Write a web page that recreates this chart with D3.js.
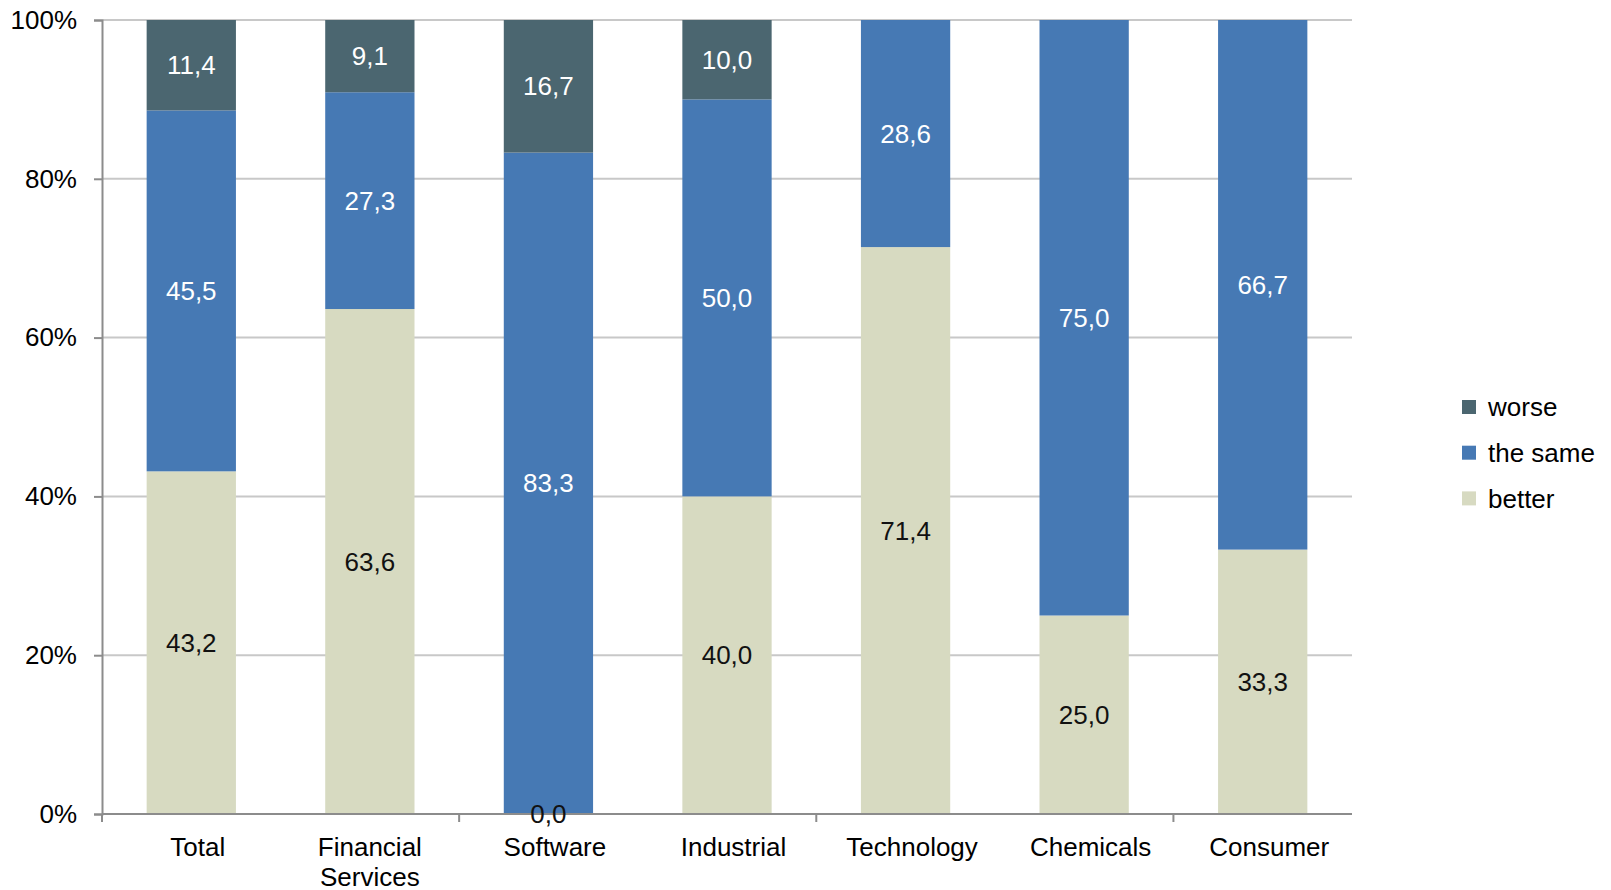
<!DOCTYPE html>
<html>
<head>
<meta charset="utf-8">
<script src="https://cdn.jsdelivr.net/npm/d3@7"></script>
<style>
  body { margin: 0; background: #fff; }
  text { font-family: "Liberation Sans", Arial, sans-serif; }
</style>
</head>
<body>
<script>
// chart data
var categories = ['Total', 'Financial Services', 'Software', 'Industrial', 'Technology', 'Chemicals', 'Consumer'];
var better = [43.2, 63.6, 0.0, 40.0, 71.4, 25.0, 33.3];
var same = [45.5, 27.3, 83.3, 50.0, 28.6, 75.0, 66.7];
var worse = [11.4, 9.1, 16.7, 10.0, null, null, null];
var seriesNames = ['better', 'the same', 'worse'];
var yTicks = [0, 0.2, 0.4, 0.6, 0.8, 1];

var svgWidth = 1611;
var svgHeight = 890;
var plotLeft = 102, plotRight = 1352, plotTop = 20, plotBottom = 814;
var fontSize = '26px';

var colors = {'better': '#d7dac1', 'the same': '#4679b4', 'worse': '#4b6670'};
var labelColors = {'better': '#111', 'the same': '#fff', 'worse': '#fff'};

var rows = categories.map(function(c, i) {
  return {cat: c, 'better': better[i], 'the same': same[i], 'worse': worse[i] || 0};
});

var stack = d3.stack().keys(seriesNames).offset(d3.stackOffsetExpand);
var layers = stack(rows);

var svg = d3.select('body').append('svg')
  .attr('width', svgWidth)
  .attr('height', svgHeight);

var x = d3.scaleBand().domain(categories).range([plotLeft, plotRight]).paddingInner(0.5).paddingOuter(0.25);
var y = d3.scaleLinear().domain([0, 1]).range([plotBottom, plotTop]);

// gridlines
svg.append('g').selectAll('line')
  .data(yTicks.slice(1))
  .enter().append('line')
  .attr('x1', plotLeft).attr('x2', plotRight)
  .attr('y1', function(d) { return y(d); })
  .attr('y2', function(d) { return y(d); })
  .attr('stroke', '#c8c8c8')
  .attr('stroke-width', 2);

// bars
var groups = svg.selectAll('.layer')
  .data(layers)
  .enter().append('g')
  .attr('class', 'layer')
  .attr('fill', function(d) { return colors[d.key]; });

groups.selectAll('rect')
  .data(function(d) { return d; })
  .enter().append('rect')
  .attr('x', function(d) { return x(d.data.cat); })
  .attr('width', x.bandwidth())
  .attr('y', function(d) { return y(d[1]); })
  .attr('height', function(d) { return y(d[0]) - y(d[1]); });

// y axis
var yAxis = d3.axisLeft(y).tickValues(yTicks).tickFormat(d3.format('.0%')).tickSize(8).tickPadding(17);
var gy = svg.append('g').attr('transform', 'translate(' + plotLeft + ',0)').call(yAxis);
gy.select('.domain').attr('stroke', '#8c8c8c').attr('stroke-width', 2);
gy.selectAll('.tick line').attr('stroke', '#8c8c8c').attr('stroke-width', 2);
gy.selectAll('.tick text').style('font-size', fontSize).attr('fill', '#000');

// x axis line and ticks (every second category boundary)
var step = x.step();
svg.append('line')
  .attr('x1', plotLeft).attr('x2', plotRight)
  .attr('y1', plotBottom).attr('y2', plotBottom)
  .attr('stroke', '#8c8c8c').attr('stroke-width', 2);
svg.append('g').selectAll('line')
  .data([0, 2, 4, 6])
  .enter().append('line')
  .attr('x1', function(d) { return plotLeft + d * step; })
  .attr('x2', function(d) { return plotLeft + d * step; })
  .attr('y1', plotBottom).attr('y2', plotBottom + 8)
  .attr('stroke', '#8c8c8c').attr('stroke-width', 2);

// category labels (single-line ones sit a little right of the bar centre, as in the original)
var catLabels = svg.append('g').selectAll('text')
  .data(categories)
  .enter().append('text')
  .attr('x', function(d) { return x(d) + x.bandwidth() / 2 + (d.indexOf(' ') < 0 ? 6.5 : 0); })
  .attr('y', 856)
  .attr('text-anchor', 'middle')
  .style('font-size', fontSize)
  .attr('fill', '#000');
catLabels.each(function(d) {
  var t = d3.select(this);
  d.split(' ').forEach(function(w, i) {
    t.append('tspan')
      .attr('x', t.attr('x'))
      .attr('dy', i === 0 ? 0 : 30)
      .text(w);
  });
});

// value labels, drawn on top of all bars
var labelData = [];
layers.forEach(function(layer) {
  layer.forEach(function(p, i) {
    var raw = layer.key === 'better' ? better[i] : layer.key === 'the same' ? same[i] : worse[i];
    if (raw != null) labelData.push({p: p, v: raw, key: layer.key});
  });
});

svg.append('g').selectAll('text')
  .data(labelData)
  .enter().append('text')
  .attr('x', function(d) { return x(d.p.data.cat) + x.bandwidth() / 2; })
  .attr('y', function(d) { return (y(d.p[0]) + y(d.p[1])) / 2; })
  .attr('dy', '0.35em')
  .attr('text-anchor', 'middle')
  .style('font-size', fontSize)
  .attr('fill', function(d) { return labelColors[d.key]; })
  .text(function(d) { return d3.format('.1f')(d.v).replace('.', ','); });

// legend
var legendItems = ['worse', 'the same', 'better'];
var legend = svg.append('g').selectAll('g')
  .data(legendItems)
  .enter().append('g')
  .attr('transform', function(d, i) { return 'translate(1462,' + (407 + i * 45.7) + ')'; });
legend.append('rect')
  .attr('x', 0).attr('y', -7)
  .attr('width', 14).attr('height', 14)
  .attr('fill', function(d) { return colors[d]; });
legend.append('text')
  .attr('x', 26).attr('y', 0)
  .attr('dy', '0.35em')
  .style('font-size', fontSize)
  .attr('fill', '#000')
  .text(function(d) { return d; });
</script>
</body>
</html>
